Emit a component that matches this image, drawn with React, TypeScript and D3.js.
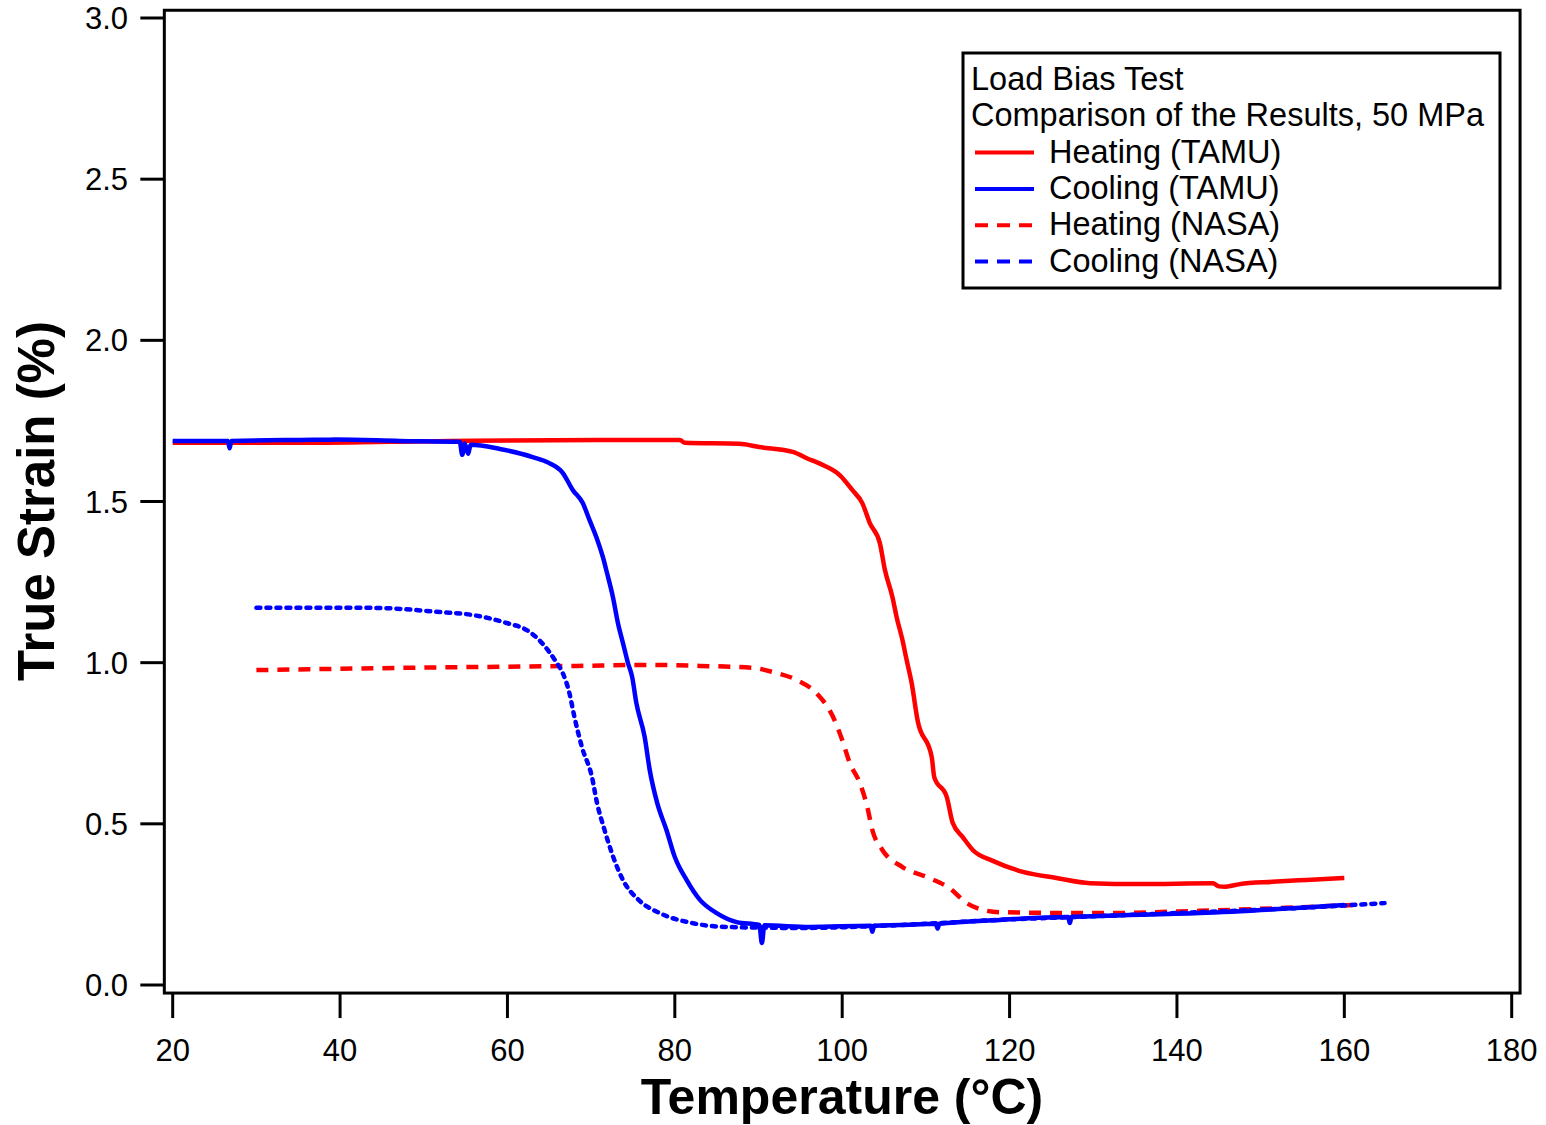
import React from "react";
import * as d3 from "d3";

// ---------- data (Temperature °C, True Strain %) ----------
const heatingTAMU: [number, number][] = [
  [20.0, 1.682], [35.2, 1.682], [53.1, 1.688], [71.0, 1.691], [80.6, 1.691],
  [81.2, 1.682], [87.7, 1.679], [90.1, 1.669], [94.1, 1.654], [95.7, 1.635],
  [97.7, 1.613], [99.7, 1.582], [101.2, 1.536], [102.4, 1.495], [103.3, 1.433],
  [104.5, 1.371], [105.1, 1.288], [106.0, 1.204], [106.5, 1.142], [107.2, 1.07],
  [107.7, 1.008], [108.3, 0.937], [109.0, 0.822], [110.7, 0.707], [111.0, 0.645],
  [112.5, 0.583], [113.2, 0.503], [114.4, 0.459], [115.6, 0.419], [118.0, 0.385],
  [121.6, 0.351], [125.6, 0.332], [129.6, 0.316], [135.5, 0.313], [144.3, 0.316],
  [145.0, 0.306], [145.8, 0.305], [147.5, 0.313], [151.4, 0.32], [155.5, 0.326],
  [160.0, 0.332],
];

const coolingTAMU: [number, number][] = [
  [20.0, 1.688], [26.6, 1.688], [26.8, 1.665], [27.0, 1.688], [35.2, 1.691],
  [39.5, 1.692], [47.1, 1.688], [54.3, 1.685], [54.6, 1.645], [54.9, 1.68],
  [55.3, 1.648], [55.6, 1.676], [59.1, 1.663], [63.0, 1.638], [65.0, 1.619],
  [66.6, 1.589], [67.8, 1.536], [69.0, 1.495], [69.8, 1.443], [70.7, 1.384],
  [71.4, 1.328], [71.9, 1.278], [72.6, 1.204], [73.2, 1.123], [73.8, 1.061],
  [74.4, 0.999], [74.9, 0.956], [75.4, 0.875], [76.4, 0.769], [77.0, 0.667],
  [77.9, 0.564], [79.0, 0.481], [80.0, 0.397], [81.4, 0.326], [83.0, 0.264],
  [85.0, 0.223], [87.4, 0.195], [90.1, 0.186], [90.4, 0.13], [90.7, 0.185],
  [96.1, 0.18], [103.4, 0.184], [103.6, 0.165], [103.8, 0.184], [106.9, 0.186],
  [111.2, 0.19], [111.4, 0.175], [111.6, 0.19], [118.8, 0.202], [127.0, 0.211],
  [127.2, 0.192], [127.4, 0.211], [130.8, 0.214], [142.7, 0.223], [160.0, 0.248],
];

const heatingNASA: [number, number][] = [
  [30.0, 0.977], [48.0, 0.984], [68.3, 0.99], [77.0, 0.993], [83.0, 0.99],
  [89.3, 0.984], [91.7, 0.971], [94.6, 0.946], [96.9, 0.906], [98.9, 0.832],
  [100.0, 0.76], [100.9, 0.689], [102.1, 0.627], [103.0, 0.552], [103.6, 0.481],
  [104.8, 0.419], [107.2, 0.366], [110.4, 0.332], [112.8, 0.301], [114.9, 0.254],
  [116.8, 0.233], [118.8, 0.226], [130.8, 0.223], [142.7, 0.23], [161.0, 0.248],
];

const coolingNASA: [number, number][] = [
  [30.0, 1.17], [43.9, 1.17], [51.9, 1.157], [55.8, 1.148], [59.9, 1.123],
  [62.3, 1.101], [63.8, 1.07], [65.0, 1.033], [65.9, 0.999], [66.6, 0.968],
  [67.4, 0.906], [68.0, 0.832], [68.9, 0.738], [70.1, 0.645], [70.7, 0.565],
  [71.6, 0.481], [72.6, 0.4], [73.8, 0.326], [75.8, 0.261], [78.2, 0.223],
  [82.1, 0.192], [86.2, 0.18], [94.9, 0.177], [106.9, 0.186], [118.8, 0.202],
  [130.8, 0.214], [142.7, 0.226], [154.6, 0.239], [164.8, 0.254],
];

const xTicks = [20, 40, 60, 80, 100, 120, 140, 160, 180];
const yTicks = [0.0, 0.5, 1.0, 1.5, 2.0, 2.5, 3.0];

const legendTitle = ["Load Bias Test", "Comparison of the Results, 50 MPa"];
const legendItems = [
  { label: "Heating (TAMU)", color: "#ff0000", dashed: false },
  { label: "Cooling (TAMU)", color: "#0000ff", dashed: false },
  { label: "Heating (NASA)", color: "#ff0000", dashed: true },
  { label: "Cooling (NASA)", color: "#0000ff", dashed: true },
];

const FONT = "'Liberation Sans', Arial, Helvetica, sans-serif";

export default function App() {
  const x = d3.scaleLinear().domain([20, 180]).range([172.7, 1511.7]);
  const y = d3.scaleLinear().domain([0, 3]).range([985, 18]);

  const frameL = x(19), frameR = x(181);
  const frameT = y(3.024), frameB = y(-0.025);

  const line = d3
    .line<[number, number]>()
    .x((d) => x(d[0]))
    .y((d) => y(d[1]))
    .curve(d3.curveMonotoneX);

  const lx = 963, ly = 53, lw = 537, lh = 235;

  return (
    <svg
      width={1546}
      height={1125}
      style={{ position: "absolute", left: 0, top: 0, background: "#fff" }}
      fontFamily={FONT}
    >
      <rect x={0} y={0} width={1546} height={1125} fill="#fff" />
      {/* data */}
      <path d={line(heatingTAMU) || ""} fill="none" stroke="#ff0000" strokeWidth={4.5} strokeLinejoin="round" />
      <path d={line(heatingNASA) || ""} fill="none" stroke="#ff0000" strokeWidth={4.5} strokeDasharray="12,9" />
      <path d={line(coolingNASA) || ""} fill="none" stroke="#0000ff" strokeWidth={4.5} strokeDasharray="4,6" strokeLinecap="round" />
      <path d={line(coolingTAMU) || ""} fill="none" stroke="#0000ff" strokeWidth={4.5} strokeLinejoin="round" />

      {/* frame */}
      <rect x={frameL} y={frameT} width={frameR - frameL} height={frameB - frameT} fill="none" stroke="#000" strokeWidth={3} />

      {/* y ticks */}
      {yTicks.map((t) => (
        <g key={"y" + t}>
          <line x1={frameL - 24} x2={frameL} y1={y(t)} y2={y(t)} stroke="#000" strokeWidth={3} />
          <text x={128} y={y(t) + 11} textAnchor="end" fontSize={31} fill="#000">
            {t.toFixed(1)}
          </text>
        </g>
      ))}
      {/* x ticks */}
      {xTicks.map((t) => (
        <g key={"x" + t}>
          <line x1={x(t)} x2={x(t)} y1={frameB} y2={frameB + 25} stroke="#000" strokeWidth={3} />
          <text x={x(t)} y={1061} textAnchor="middle" fontSize={31} fill="#000">
            {t}
          </text>
        </g>
      ))}

      {/* axis titles */}
      <text x={842} y={1114} textAnchor="middle" fontSize={50} fontWeight="bold" fill="#000">
        Temperature (°C)
      </text>
      <text
        transform={`translate(54, 501) rotate(-90)`}
        textAnchor="middle"
        fontSize={51}
        fontWeight="bold"
        fill="#000"
      >
        True Strain (%)
      </text>

      {/* legend */}
      <rect x={lx} y={ly} width={lw} height={lh} fill="#fff" stroke="#000" strokeWidth={3} />
      {legendTitle.map((t, i) => (
        <text key={t} x={971} y={90 + i * 36.3} fontSize={32.5} fill="#000">
          {t}
        </text>
      ))}
      {legendItems.map((it, i) => {
        const by = 90 + (i + 2) * 36.3;
        return (
          <g key={it.label}>
            <line
              x1={975}
              x2={1034}
              y1={by - 10}
              y2={by - 10}
              stroke={it.color}
              strokeWidth={4}
              strokeDasharray={it.dashed ? "13,9" : undefined}
            />
            <text x={1049} y={by} fontSize={32.5} fill="#000">
              {it.label}
            </text>
          </g>
        );
      })}
    </svg>
  );
}
